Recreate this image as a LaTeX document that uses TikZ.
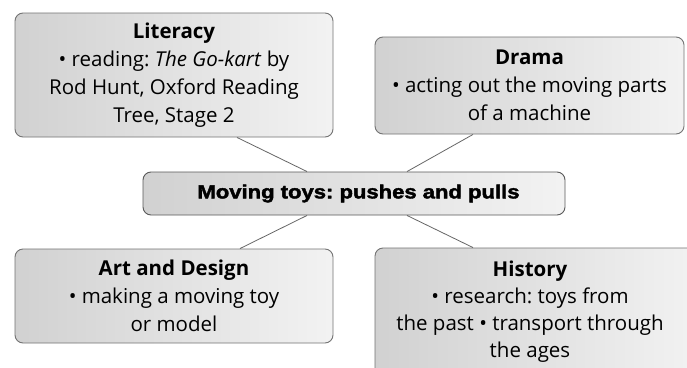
\documentclass[tikz,border=0pt]{standalone}
\usepackage{fontspec}
\setmainfont{Open Sans}
\newfontfamily\heavyfont[FakeBold=2.2,FakeStretch=1.16]{Liberation Sans}
\usetikzlibrary{calc}
\frenchspacing
\begin{document}
\begin{tikzpicture}[x=1pt,y=-1pt,
  box/.style={draw=black!55, line width=0.9pt, rounded corners=8pt,
    left color=black!18, right color=black!5, inner sep=0pt, align=center,
    font=\fontsize{20.5}{28}\selectfont},
  txt/.style={inner sep=0pt, align=center, font=\fontsize{20.5}{27}\selectfont},
  link/.style={draw=black!60, line width=0.8pt}]
\useasboundingbox (0,0) rectangle (687,367);
\fill[white] (0,0) rectangle (687,367);
\begin{scope}
\clip (0,0) rectangle (687,367);
\node[box, minimum width=318pt, minimum height=124pt] (lit) at (174,75)
  {\textbf{Literacy}\\ \textbullet\ reading: \textit{The Go-kart} by\\ Rod Hunt, Oxford Reading\\ Tree, Stage 2};
\node[box, minimum width=309pt, minimum height=97pt] (dra) at (529.5,85.5)
  {\textbf{Drama}\\ \textbullet\ acting out the moving parts\\ of a machine};
\node[box, draw=black!65, minimum width=422pt, minimum height=43pt] (ctr) at (354,193.5) {};
\node[txt, font=\heavyfont\bfseries\fontsize{19}{22}\selectfont] (ctrtxt) at (358.5,193.5)
  {\frenchspacing Moving toys: pushes and pulls};
\node[box, minimum width=318pt, minimum height=94pt] (art) at (174,296)
  {\textbf{Art and Design}\\ \textbullet\ making a moving toy\\ or model};
\node[box, minimum width=325pt, minimum height=137pt] (his) at (537.5,316.5) {};
\node[txt] (histxt) at (530,312) {\frenchspacing\textbf{History}\\ \textbullet\ research: toys from\\ the past \textbullet\ transport through\\ the ages};
\draw[link] ([xshift=63pt]lit.south) -- ([xshift=-47pt]ctr.north);
\draw[link] ([xshift=-56.5pt]dra.south) -- ([xshift=53pt]ctr.north);
\draw[link] ([xshift=66pt]art.north) -- ([xshift=-47pt]ctr.south);
\draw[link] ([xshift=-64.5pt]his.north) -- ([xshift=53pt]ctr.south);
\end{scope}
\end{tikzpicture}
\end{document}
